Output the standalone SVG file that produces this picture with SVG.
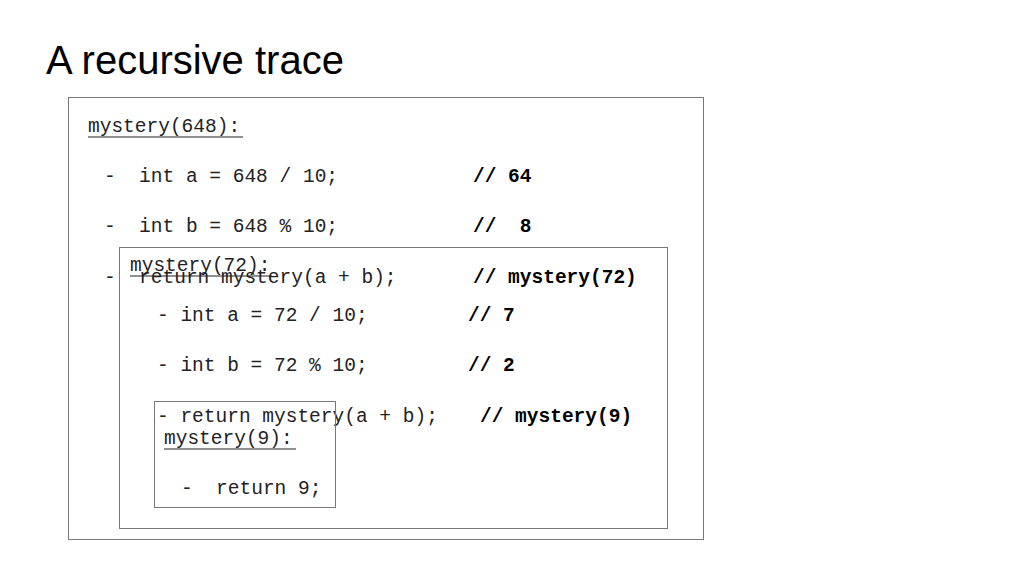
<svg xmlns="http://www.w3.org/2000/svg" width="1024" height="576" viewBox="0 0 1024 576">
<style>
.t{font-family:"Liberation Sans",Arial,sans-serif;font-size:40px;fill:#000}
.m{font-family:"Liberation Mono","Courier New",monospace;font-size:19.5px;fill:#222;white-space:pre}
.b{font-weight:bold;fill:#000}
.box{fill:none;stroke:#777;stroke-width:1}
.u{stroke:#222;stroke-width:1.2}
</style>
<rect width="1024" height="576" fill="#fff"/>
<text class="t" x="46" y="74">A recursive trace</text>
<g id="call648">
<rect class="box" x="68.5" y="97.5" width="635" height="442"/>
<text class="m" x="88" y="132">mystery(648):</text>
<line class="u" x1="88" y1="137" x2="243" y2="137"/>
<text class="m" x="104" y="182">-  int a = 648 / 10;</text>
<text class="m b" x="473" y="182">// 64</text>
<text class="m" x="104" y="232">-  int b = 648 % 10;</text>
<text class="m b" x="473" y="232">//  8</text>
<text class="m" x="104" y="283">-  return mystery(a + b);</text>
<text class="m b" x="473" y="283">// mystery(72)</text>
</g>
<g id="call72">
<rect class="box" x="119.5" y="247.5" width="548" height="281"/>
<text class="m" x="130" y="271">mystery(72):</text>
<line class="u" x1="130" y1="276" x2="272" y2="276"/>
<text class="m" x="157" y="321">- int a = 72 / 10;</text>
<text class="m b" x="468" y="321">// 7</text>
<text class="m" x="157" y="371">- int b = 72 % 10;</text>
<text class="m b" x="468" y="371">// 2</text>
<text class="m" x="157" y="422">- return mystery(a + b);</text>
<text class="m b" x="480" y="422">// mystery(9)</text>
</g>
<g id="call9">
<rect class="box" x="154.5" y="401.5" width="181" height="106"/>
<text class="m" x="164" y="444">mystery(9):</text>
<line class="u" x1="164" y1="449" x2="296" y2="449"/>
<text class="m" x="181" y="494">-  return 9;</text>
</g>
<g id="connectors"/>
</svg>
